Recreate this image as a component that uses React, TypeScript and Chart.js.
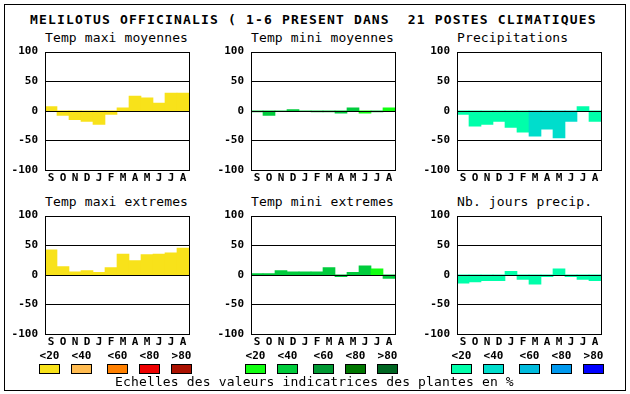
import React, { useEffect, useRef } from "react";
import { Chart, registerables } from "chart.js";

Chart.register(...registerables);

// ---------- data ----------
const MONTHS = ["S", "O", "N", "D", "J", "F", "M", "A", "M", "J", "J", "A"];
const Y_MIN = -100;
const Y_MAX = 100;
const Y_STEP = 50;
const LEGEND_LABELS = ["<20", "<40", "<60", "<80", ">80"];

const TITLE = "MELILOTUS OFFICINALIS ( 1-6 PRESENT DANS  21 POSTES CLIMATIQUES";
const FOOTER = "Echelles des valeurs indicatrices des plantes en %";

const PANEL_TITLES = [
  "Temp maxi moyennes",
  "Temp mini moyennes",
  "Precipitations",
  "Temp maxi extremes",
  "Temp mini extremes",
  "Nb. jours precip.",
];

const tempMaxiMoy = [7, -8, -15, -18, -23, -6, 5, 25, 22, 13, 30, 30];
const tempMaxiMoyClass = [0, 0, 0, 0, 0, 0, 0, 0, 0, 0, 0, 0];

const tempMiniMoy = [-2, -8, 0, 2, 0, -2, -2, -4, 5, -4, -2, 5];
const tempMiniMoyClass = [1, 1, 1, 1, 1, 1, 1, 1, 1, 0, 1, 0];

const precip = [-6, -26, -23, -18, -28, -36, -43, -31, -46, -18, 7, -18];
const precipClass = [0, 0, 0, 0, 0, 0, 1, 1, 1, 1, 0, 0];

const tempMaxiExt = [42, 14, 5, 7, 4, 12, 35, 24, 34, 35, 37, 45];
const tempMaxiExtClass = [0, 0, 0, 0, 0, 0, 0, 0, 0, 0, 0, 0];

const tempMiniExt = [2, 2, 7, 5, 5, 5, 12, -3, 4, 15, 10, -6];
const tempMiniExtClass = [1, 1, 1, 1, 1, 1, 1, 1, 1, 1, 0, 1];

const nbJours = [-14, -12, -10, -10, 6, -8, -16, -3, 10, -3, -8, -10];
const nbJoursClass = [0, 0, 0, 0, 0, 0, 0, 0, 0, 0, 0, 0];

// ---------- styles ----------
const WARM = ["#f8e21a", "#ffbb50", "#ff8000", "#ee0000", "#aa1100"];
const GREEN = ["#11ff11", "#00cc3c", "#009933", "#007700", "#006622"];
const BLUE = ["#00ffaa", "#00ddcc", "#00bbdd", "#0099ee", "#0000ff"];
const PALETTES = [WARM, GREEN, BLUE];

const MONO = "'DejaVu Sans Mono', 'Liberation Mono', monospace";
const COL_LEFTS = [45, 251, 457];
const ROW_TOPS = [50, 214];
const PLOT_W = 144;
const PLOT_H = 120;
const AXIS_W = 45;
const PAD_TOP = 12;
const PAD_RIGHT = 8;
const X_AXIS_H = 16;
const BOX_OFFSETS = [-6, 26, 62, 94, 126];

const framePlugin = {
  id: "frame",
  afterDatasetsDraw(chart: any) {
    const { ctx, chartArea, scales } = chart;
    const { left, right, top, bottom } = chartArea;
    const y = scales.y;
    ctx.save();
    ctx.strokeStyle = "#000";
    ctx.lineWidth = 1;
    ctx.beginPath();
    for (const v of [50, 0, -50]) {
      const py = Math.round(y.getPixelForValue(v)) + 0.5;
      ctx.moveTo(left, py);
      ctx.lineTo(right, py);
    }
    ctx.stroke();
    ctx.strokeRect(Math.round(left) + 0.5, Math.round(top) + 0.5, Math.round(right - left), Math.round(bottom - top));
    ctx.restore();
  },
};

type PanelProps = {
  values: number[];
  classes: number[];
  palette: string[];
  left: number;
  top: number;
};

function Panel({ values, classes, palette, left, top }: PanelProps) {
  const ref = useRef<HTMLCanvasElement | null>(null);
  useEffect(() => {
    if (!ref.current) return;
    const chart = new Chart(ref.current, {
      type: "bar",
      data: {
        labels: MONTHS,
        datasets: [
          {
            data: values,
            backgroundColor: classes.map((c) => palette[c]),
            borderWidth: 0,
            categoryPercentage: 1,
            barPercentage: 1,
          },
        ],
      },
      options: {
        responsive: false,
        animation: false,
        devicePixelRatio: 1,
        layout: { padding: { left: 0, top: PAD_TOP, right: PAD_RIGHT, bottom: 0 } },
        plugins: { legend: { display: false }, tooltip: { enabled: false }, title: { display: false } },
        scales: {
          x: {
            grid: { display: false, drawTicks: false },
            border: { display: false },
            ticks: {
              color: "#000",
              padding: 2,
              font: { family: MONO, size: 11, weight: "bold" },
              maxRotation: 0,
              autoSkip: false,
            },
            afterFit: (s: any) => {
              s.height = X_AXIS_H;
            },
          },
          y: {
            min: Y_MIN,
            max: Y_MAX,
            grid: { display: false, drawTicks: false },
            border: { display: false },
            ticks: {
              stepSize: Y_STEP,
              color: "#000",
              padding: 7,
              font: { family: MONO, size: 11, weight: "bold" },
            },
            afterFit: (s: any) => {
              s.width = AXIS_W;
            },
          },
        },
      },
      plugins: [framePlugin],
    });
    return () => chart.destroy();
  }, [values, classes, palette]);

  const w = AXIS_W + PLOT_W + PAD_RIGHT;
  const h = PAD_TOP + PLOT_H + X_AXIS_H;
  return (
    <canvas
      ref={ref}
      width={w}
      height={h}
      style={{ position: "absolute", left: left - AXIS_W, top: top - PAD_TOP, width: w, height: h }}
    />
  );
}

const PANELS = [
  { values: tempMaxiMoy, classes: tempMaxiMoyClass, pal: 0 },
  { values: tempMiniMoy, classes: tempMiniMoyClass, pal: 1 },
  { values: precip, classes: precipClass, pal: 2 },
  { values: tempMaxiExt, classes: tempMaxiExtClass, pal: 0 },
  { values: tempMiniExt, classes: tempMiniExtClass, pal: 1 },
  { values: nbJours, classes: nbJoursClass, pal: 2 },
];

export default function App() {
  return (
    <div
      style={{
        position: "fixed",
        left: 0,
        top: 0,
        width: 630,
        height: 394,
        background: "#fff",
        overflow: "hidden",
      }}
    >
      <div
        style={{
          position: "absolute",
          left: 4,
          top: 4,
          width: 622,
          height: 387,
          border: "1px solid #000",
          boxSizing: "border-box",
        }}
      />
      <div
        style={{
          position: "absolute",
          left: 30,
          top: 13,
          fontFamily: MONO,
          fontSize: 13,
          lineHeight: "13px",
          fontWeight: "bold",
          letterSpacing: "1.17px",
          whiteSpace: "pre",
          color: "#000",
        }}
      >
        {TITLE}
      </div>
      {PANELS.map((p, i) => {
        const left = COL_LEFTS[i % 3];
        const top = ROW_TOPS[Math.floor(i / 3)];
        return (
          <React.Fragment key={i}>
            <div
              style={{
                position: "absolute",
                left,
                top: top - 19,
                fontFamily: MONO,
                fontSize: 13,
                lineHeight: "13px",
                letterSpacing: "0.12px",
                whiteSpace: "pre",
                color: "#000",
              }}
            >
              {PANEL_TITLES[i]}
            </div>
            <Panel values={p.values} classes={p.classes} palette={PALETTES[p.pal]} left={left} top={top} />
          </React.Fragment>
        );
      })}
      {COL_LEFTS.map((cl, gi) => (
        <React.Fragment key={"lg" + gi}>
          {LEGEND_LABELS.map((lab, j) => {
            const bx = cl + BOX_OFFSETS[j];
            return (
              <React.Fragment key={j}>
                <div
                  style={{
                    position: "absolute",
                    left: bx - 5,
                    width: 31,
                    top: 350,
                    textAlign: "center",
                    fontFamily: MONO,
                    fontSize: 11,
                    lineHeight: "11px",
                    fontWeight: "bold",
                    color: "#000",
                    whiteSpace: "pre",
                  }}
                >
                  {lab}
                </div>
                <div
                  style={{
                    position: "absolute",
                    left: bx,
                    top: 364,
                    width: 21,
                    height: 10,
                    boxSizing: "border-box",
                    border: "1px solid #000",
                    background: PALETTES[gi][j],
                  }}
                />
              </React.Fragment>
            );
          })}
        </React.Fragment>
      ))}
      <div
        style={{
          position: "absolute",
          left: 115,
          top: 375,
          fontFamily: MONO,
          fontSize: 13,
          lineHeight: "13px",
          letterSpacing: "0.15px",
          whiteSpace: "pre",
          color: "#000",
        }}
      >
        {FOOTER}
      </div>
    </div>
  );
}
